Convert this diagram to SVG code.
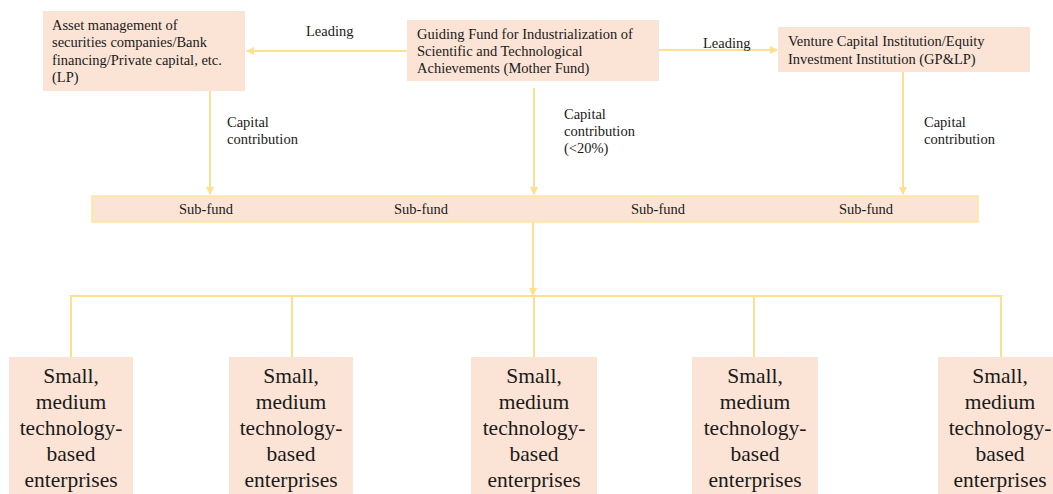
<svg xmlns="http://www.w3.org/2000/svg" width="1053" height="494" viewBox="0 0 1053 494">
<style>
.box{fill:#FBE4D6;}
.bar{fill:#FBE4D6;stroke:#FFE699;stroke-width:1.5;}
.t{font-family:"Liberation Serif","Times New Roman",serif;font-size:14.5px;fill:#1a1a1a;}
.big{font-family:"Liberation Serif","Times New Roman",serif;font-size:21.5px;fill:#1a1a1a;text-anchor:middle;}
.c{text-anchor:middle;}
.ln{stroke:#FFE08F;stroke-width:2;fill:none;}
.ar{stroke:#FFE08F;stroke-width:2;fill:none;marker-end:url(#ah);}
</style>
<defs>
<marker id="ah" markerWidth="8" markerHeight="8" refX="7" refY="4" orient="auto" markerUnits="userSpaceOnUse">
<path d="M0,0 L8,4 L0,8 Z" fill="#FFE08F"/>
</marker>
</defs>
<rect width="1053" height="494" fill="#ffffff"/>
<g id="connectors">
<line class="ar" x1="407" y1="51" x2="247" y2="51"/>
<line class="ar" x1="659" y1="50" x2="777" y2="50"/>
<line class="ar" x1="210" y1="89" x2="210" y2="194"/>
<line class="ar" x1="534" y1="88" x2="534" y2="194"/>
<line class="ar" x1="903" y1="72" x2="903" y2="194"/>
<line class="ar" x1="533" y1="222" x2="533" y2="295"/>
<line class="ln" x1="70" y1="296" x2="1002" y2="296"/>
<line class="ln" x1="71" y1="296" x2="71" y2="357"/>
<line class="ln" x1="292" y1="296" x2="292" y2="357"/>
<line class="ln" x1="534" y1="296" x2="534" y2="357"/>
<line class="ln" x1="754" y1="296" x2="754" y2="357"/>
<line class="ln" x1="1001" y1="296" x2="1001" y2="357"/>
<text class="t" x="306" y="36">Leading</text>
<text class="t" x="703" y="48">Leading</text>
<text class="t" x="227" y="127">Capital</text>
<text class="t" x="227" y="144">contribution</text>
<text class="t" x="564" y="119">Capital</text>
<text class="t" x="564" y="136">contribution</text>
<text class="t" x="564" y="153">(&lt;20%)</text>
<text class="t" x="924" y="127">Capital</text>
<text class="t" x="924" y="144">contribution</text>
</g>
<g id="lp">
<rect class="box" x="43" y="11" width="202" height="80"/>
<text class="t" x="52" y="29.5">Asset management of</text>
<text class="t" x="52" y="47">securities companies/Bank</text>
<text class="t" x="52" y="64.5">financing/Private capital, etc.</text>
<text class="t" x="52" y="82">(LP)</text>
</g>
<g id="mother">
<rect class="box" x="407" y="20" width="252" height="61"/>
<text class="t" x="417" y="38.5">Guiding Fund for Industrialization of</text>
<text class="t" x="417" y="56">Scientific and Technological</text>
<text class="t" x="417" y="73">Achievements (Mother Fund)</text>
</g>
<g id="vc">
<rect class="box" x="778" y="27" width="252" height="45"/>
<text class="t" x="788" y="46">Venture Capital Institution/Equity</text>
<text class="t" x="788" y="63.5">Investment Institution (GP&amp;LP)</text>
</g>
<g id="subfunds">
<rect class="bar" x="92" y="196" width="886" height="26"/>
<text class="t c" x="206" y="213.5">Sub-fund</text>
<text class="t c" x="421" y="213.5">Sub-fund</text>
<text class="t c" x="658" y="213.5">Sub-fund</text>
<text class="t c" x="866" y="213.5">Sub-fund</text>
</g>
<g id="sme1">
<rect class="box" x="9" y="357" width="124" height="137"/>
<text class="big" x="71" y="383">Small,</text>
<text class="big" x="71" y="409">medium</text>
<text class="big" x="71" y="435">technology-</text>
<text class="big" x="71" y="461">based</text>
<text class="big" x="71" y="487">enterprises</text>
</g>
<g id="sme2">
<rect class="box" x="229" y="357" width="124" height="137"/>
<text class="big" x="291" y="383">Small,</text>
<text class="big" x="291" y="409">medium</text>
<text class="big" x="291" y="435">technology-</text>
<text class="big" x="291" y="461">based</text>
<text class="big" x="291" y="487">enterprises</text>
</g>
<g id="sme3">
<rect class="box" x="471" y="357" width="126" height="137"/>
<text class="big" x="534" y="383">Small,</text>
<text class="big" x="534" y="409">medium</text>
<text class="big" x="534" y="435">technology-</text>
<text class="big" x="534" y="461">based</text>
<text class="big" x="534" y="487">enterprises</text>
</g>
<g id="sme4">
<rect class="box" x="692" y="357" width="126" height="137"/>
<text class="big" x="755" y="383">Small,</text>
<text class="big" x="755" y="409">medium</text>
<text class="big" x="755" y="435">technology-</text>
<text class="big" x="755" y="461">based</text>
<text class="big" x="755" y="487">enterprises</text>
</g>
<g id="sme5">
<rect class="box" x="938" y="357" width="124" height="137"/>
<text class="big" x="1000" y="383">Small,</text>
<text class="big" x="1000" y="409">medium</text>
<text class="big" x="1000" y="435">technology-</text>
<text class="big" x="1000" y="461">based</text>
<text class="big" x="1000" y="487">enterprises</text>
</g>
</svg>
